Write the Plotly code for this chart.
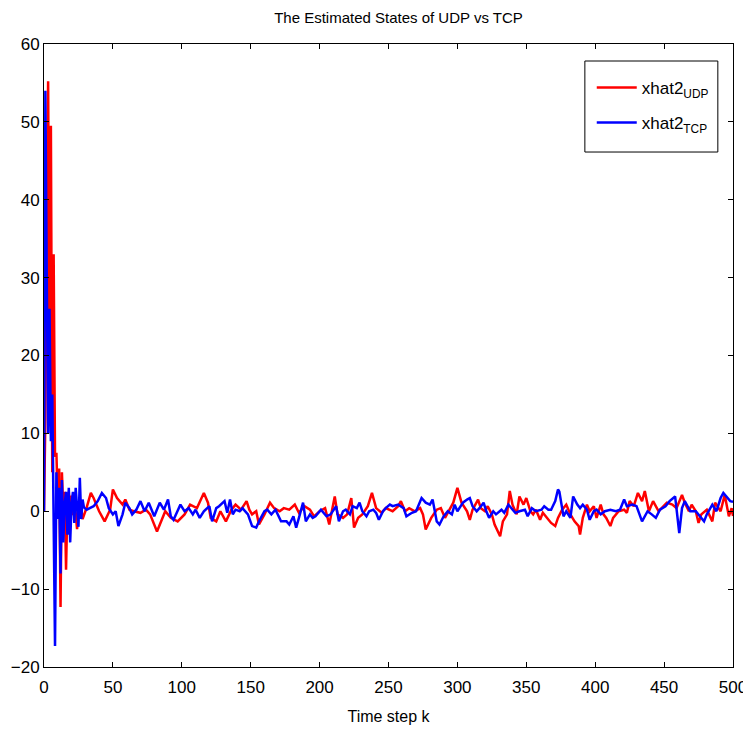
import plotly.graph_objects as go

# ---- data ----
udp_k = [0, 1, 2, 3, 4, 5, 6, 7, 8, 9, 10, 11, 12, 13, 14, 15, 16, 17, 18, 19, 20,
         21, 22, 23, 24, 25, 26, 28, 31, 34, 36, 40, 44, 48, 50, 53, 57, 59, 62, 65,
         70, 74, 77, 82, 85, 88, 92, 97, 102, 106, 111, 116, 119, 121, 125, 128, 132,
         136, 139, 143, 147, 149, 151, 154, 156, 160, 164, 167, 171, 174, 178, 182,
         185, 189, 193, 196, 200, 204, 207, 211, 213, 217, 220, 223, 225, 228, 231,
         235, 238, 241, 245, 248, 253, 257, 259, 262, 265, 269, 273, 275, 277, 281,
         285, 288, 291, 294, 297, 300, 303, 307, 309, 311, 315, 317, 320, 322, 325,
         327, 331, 333, 336, 338, 340, 343, 345, 348, 350, 353, 355, 357, 360, 362,
         365, 368, 371, 373, 376, 379, 382, 385, 388, 389, 391, 394, 396, 399, 401,
         404, 406, 408, 411, 413, 417, 421, 423, 425, 428, 431, 434, 436, 439, 442,
         446, 448, 452, 456, 459, 463, 465, 468, 470, 473, 475, 477, 481, 485, 487,
         491, 494, 497, 499, 500]
udp_val = [0, 12, 40, 55.2, 20, 49.5, 5, 33, 7, 7.5, 1, 5.5, -12.3, 5, 0, 2.5, -7.5, 1,
           2.5, -1, 2, -0.5, 1.5, -1, -2.3, 0.5, 1.5, -1.0, 0.5, 2.35, 1.7, 0, -1.3,
           0.2, 2.8, 1.7, 0.85, 1.5, 0.2, 0, -0.2, 0.2, -0.4, -2.6, -1.3, 0, -0.85,
           -1.3, -0.4, 0.85, 0.4, 2.35, 1.1, -0.85, -1.3, 0, -1.3, 0.2, 0.85, 0.2, 1.3,
           0.2, -0.4, 0, -1.7, -0.4, 1.1, 0.4, 0, 0.4, 0.2, 0.85, -0.2, 0.65, 0.2,
           -0.65, 0, 0.4, -1.7, 1.9, -0.4, -0.85, -0.4, 1.7, -2.1, -0.85, -0.4, 0.65,
           2.35, 0.4, -0.2, 0.4, 0, 0.65, 1.3, 0, 0.4, 0, 0.4, -0.4, -2.35, -0.85, 0.2,
           0.4, -0.85, 0.2, 1.1, 3.0, 1.1, 0, -1.1, 0.2, 1.5, 0.4, 0, 0.65, -0.4, -1.7,
           -3.2, -1.3, -0.4, 2.6, 0.85, -0.4, 1.9, 0.85, 1.7, 0, -0.4, 0.2, -1.1, -0.2,
           -0.85, -1.5, -1.9, -0.85, 0.2, 0.85, -0.4, -1.3, -1.9, -3.0, -0.85, 0.85,
           0, 0.65, -0.85, 0.85, -0.4, -0.85, -1.9, -0.85, 0, 0.2, -0.2, 1.3, 0.65,
           2.35, 1.3, 2.6, 0, 1.3, 0, 0.4, 1.1, 0.85, 0.4, 2.1, 1.1, 0, 0.85, 0, -1.5,
           -0.4, 0.2, -1.3, 1.1, 0, 2.1, -0.65, 0.4, -0.6]

tcp_k = [0, 1, 2, 3, 4, 5, 6, 7, 8, 9, 10, 11, 12, 13, 14, 15, 16, 17, 18, 19, 20,
         21, 22, 23, 24, 25, 26, 27, 28, 29, 31, 36, 39, 42, 45, 47, 50, 52, 54, 57,
         59, 62, 64, 67, 70, 73, 76, 80, 84, 87, 90, 92, 94, 97, 99, 102, 105, 108,
         110, 113, 116, 120, 122, 125, 127, 131, 133, 135, 137, 139, 142, 144, 148,
         151, 154, 156, 160, 162, 165, 168, 172, 176, 178, 181, 183, 185, 188, 190,
         193, 195, 197, 201, 205, 208, 212, 214, 217, 219, 222, 224, 227, 229, 231,
         234, 236, 239, 241, 243, 246, 248, 251, 253, 257, 261, 263, 267, 270, 274,
         277, 280, 282, 285, 287, 290, 293, 296, 298, 300, 304, 307, 309, 311, 314,
         316, 319, 321, 323, 326, 328, 332, 334, 337, 339, 342, 345, 349, 351, 354,
         357, 361, 363, 366, 368, 371, 373, 374, 377, 379, 382, 384, 387, 389, 391,
         394, 396, 399, 401, 404, 407, 411, 415, 418, 421, 423, 427, 430, 434, 438,
         441, 444, 447, 451, 454, 458, 461, 463, 465, 469, 473, 476, 479, 481, 485,
         488, 491, 493, 496, 498, 500]
tcp_val = [0, 54, 30, 10, 26, 9, 15, 1, -17.3, 5, -1, 3, -8, 4, -4, 1, 2.5, -3, 3, -4,
           1, 2.5, -1.5, 3, 0, -2, 4.3, -1, 1.5, 0.5, 0.2, 0.65, 1.3, 2.35, 1.7, 0.4,
           -0.4, 0, -1.9, -0.4, 1.1, 0.4, -0.4, 0.2, 1.3, 0, 1.1, -0.65, 1.1, 0.2, 1.5,
           -0.65, -1.1, 0.2, 0.85, 0, 0.4, -0.4, 0.2, -0.85, 0, 0.65, -1.3, 0.4, 0.65,
           1.3, -0.2, 1.5, -0.4, 0.2, 0, 0.4, -0.4, -1.9, -2.1, -1.3, 0, 0.2, -0.4,
           0.2, -1.3, -1.3, -1.7, -0.65, -2.1, -0.85, 1.1, -1.3, -0.4, -0.85, -0.65,
           0.2, -0.65, -0.4, 0.65, -1.3, 0, 0.2, -0.4, 0.65, 0.4, 1.1, 0, -0.65, 0,
           0.2, -0.2, -1.1, 0, 0.4, 0.85, 0.65, 0.85, 0.4, -0.65, -0.2, 0, 1.7, 1.1,
           0.85, 1.5, -1.3, -1.7, -0.65, 0, -0.4, 0.85, 0, 1.1, 1.5, 1.7, 0.65, 0, 0.4,
           1.1, 0, -0.85, 0, -0.4, 0.2, -0.2, 0.85, 0.4, -0.2, 0, 0.2, -0.65, 0.4, 0,
           0.2, 0.65, 0.2, 0.2, 1.3, 2.8, 2.5, -0.65, 0, -0.85, 1.9, 0.85, 0.4, 0.85,
           0.2, -1.1, 0, 0.2, -0.4, 0, 0.2, 0, 0.2, 1.5, 0.65, 0.85, 0.65, -1.3, 0,
           -0.4, -0.85, 0.2, 0.65, 1.3, 1.9, -2.8, 0.4, 1.3, 0, 0, -0.65, -1.3, -0.4,
           0.85, 0, 1.7, 2.35, 1.7, 1.3, 1.2]

x_ticks = [0, 50, 100, 150, 200, 250, 300, 350, 400, 450, 500]
y_ticks = [-20, -10, 0, 10, 20, 30, 40, 50, 60]

FONT = "Liberation Sans, Arial, Helvetica, sans-serif"

fig = go.Figure()
fig.add_trace(go.Scatter(x=udp_k, y=udp_val, mode="lines", name="xhat2<sub>UDP</sub>",
                         legendgroup="udp",
                         line=dict(color="#ff0000", width=2.5)))
fig.add_trace(go.Scatter(x=tcp_k, y=tcp_val, mode="lines", name="xhat2<sub>TCP</sub>",
                         legendgroup="tcp",
                         line=dict(color="#0000ff", width=2.5)))

axis_common = dict(showline=True, linecolor="black", linewidth=1, mirror="ticks",
                   ticks="inside", ticklen=5, tickcolor="black", showgrid=False,
                   zeroline=False, automargin=False,
                   tickfont=dict(family=FONT, size=17, color="black"))

# legend frame (MATLAB-style box)
fig.add_shape(type="rect", xref="paper", yref="paper",
              x0=0.785, x1=0.978, y0=0.8266, y1=0.9727,
              line=dict(color="black", width=1), fillcolor="white", layer="below")

fig.update_layout(
    width=743, height=721,
    margin=dict(l=36, r=18, t=36, b=62),
    paper_bgcolor="white", plot_bgcolor="white",
    title=dict(text="The Estimated States of UDP vs TCP", xref="paper", x=0.5145,
               xanchor="center", y=1 - 10 / 721, yanchor="middle",
               font=dict(family=FONT, size=15, color="black")),
    xaxis=dict(range=[0, 500], tickvals=x_ticks, ticklabelstandoff=5,
               title=dict(text="Time step k", standoff=14,
                          font=dict(family=FONT, size=16, color="black")),
               **axis_common),
    yaxis=dict(range=[-20, 60], tickvals=y_ticks, **axis_common),
    legend=dict(x=0.795, y=0.9585, xanchor="left", yanchor="top",
                bgcolor="rgba(0,0,0,0)", borderwidth=0,
                font=dict(family=FONT, size=17, color="black"),
                tracegroupgap=10, itemwidth=40),
    showlegend=True,
)

fig.write_html("out.html")
